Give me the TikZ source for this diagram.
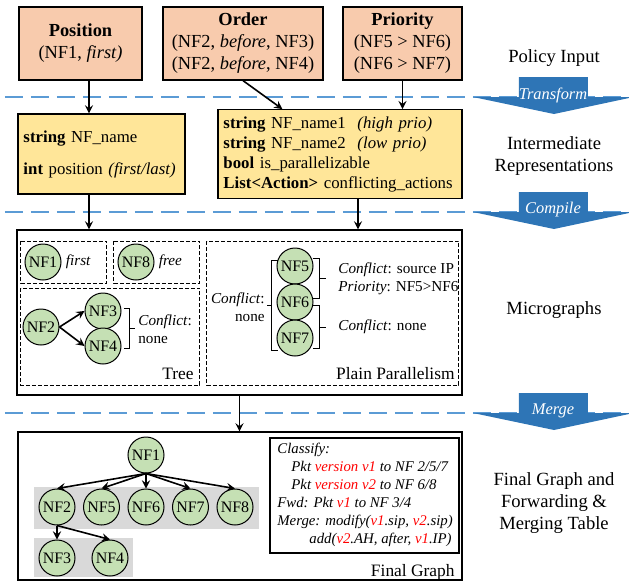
\documentclass[tikz,border=0pt]{standalone}
\usepackage{fontspec}
\setmainfont{Liberation Serif}
\usepackage{tikz}
\usetikzlibrary{arrows,positioning,calc}

\definecolor{peach}{HTML}{F8CBAD}
\definecolor{irgold}{HTML}{FFE699}
\definecolor{nfgreen}{HTML}{C5E0B4}
\definecolor{stageblue}{HTML}{2E75B6}
\definecolor{lineblue}{HTML}{5B9BD5}
\definecolor{bandgray}{HTML}{D9D9D9}

\tikzset{
  policy/.style={draw=black, fill=peach, line width=0.6pt, minimum height=36.5pt, align=center, inner sep=0pt, font=\fontsize{9.2}{11}\selectfont},
  irbox/.style={draw=black, fill=irgold, line width=0.6pt, minimum height=40pt, align=left, inner xsep=2.75pt, font=\fontsize{8.4}{10}\selectfont},
  nf/.style={circle, draw=black, fill=nfgreen, line width=0.5pt, minimum size=18pt, inner sep=0pt, font=\fontsize{8}{9}\selectfont},
  sub/.style={draw=black, line width=0.5pt, dash pattern=on 2pt off 1pt},
  note/.style={font=\fontsize{7.6}{9}\selectfont, inner sep=0pt},
  lbl/.style={font=\fontsize{8.7}{10}\selectfont, inner sep=0pt},
  stagelabel/.style={align=center, font=\fontsize{9.3}{11}\selectfont},
  sep/.style={lineblue, line width=1pt, dash pattern=on 9pt off 4pt},
  stagetext/.style={text=white, font=\fontsize{8.2}{9}\selectfont\itshape},
  tabletext/.style={align=left, inner sep=0pt, font=\fontsize{7.4}{9}\selectfont\itshape},
  flow/.style={-stealth, line width=0.8pt},
  brace/.style={line width=0.5pt}
}

\begin{document}
\begin{tikzpicture}[x=0.5pt,y=-0.5pt]
\useasboundingbox (0,0) rectangle (629,586);

% stage separators
\foreach \y/\t in {97/Transform,212/Compile,413/Merge}
         {
           \draw[sep] (5,\y) -- (629,\y);
           \fill[stageblue] (519,\y-20) -- (588,\y-20) -- (588,\y) -- (629,\y) -- (629,\y+1) -- (554,\y+17) -- (473,\y) -- (519,\y) -- cycle;
           \node[stagetext] at (553,\y-2) {\t};
         }

\node[stagelabel] (lpol) at (554,58) {Policy Input};
\node[stagelabel] (lir) at (554,156) {Intermediate\\Representations};
\node[stagelabel] (lmic) at (554,310) {Micrographs};
\node[stagelabel] (lfin) at (554,503) {Final Graph and\\Forwarding \&\\Merging Table};

% policy input
\node[policy, minimum width=61.5pt] (pos) at (80.5,43.5) {\textbf{Position}\\(NF1, \textit{first)}};
\node[policy, minimum width=80pt] (ord) at (243,43.5) {\textbf{Order}\\(NF2, \textit{before}, NF3)\\(NF2, \textit{before}, NF4)};
\node[policy, minimum width=59.5pt] (prio) at (402.5,43.5) {\textbf{Priority}\\(NF5 > NF6)\\(NF6 > NF7)};

% intermediate representations
\node[irbox, text width=78pt] (ir1) at (101.5,154) {\textbf{string} NF\_name\\[6pt]\textbf{int} position \textit{(first/last)}};
\node[irbox, text width=116.5pt] (ir2) at (340,154) {\makebox[67pt][l]{\textbf{string} NF\_name1}\textit{(high prio)}\\
  \makebox[67pt][l]{\textbf{string} NF\_name2}\textit{(low prio)}\\
  \textbf{bool} is\_parallelizable\\
  \textbf{List<Action>} conflicting\_actions};

\coordinate (p1) at ([xshift=4.25pt]pos.south);
\coordinate (p2) at ([xshift=9pt]ir2.south);
\draw[flow] (p1) -- (p1 |- ir1.north);
\draw[flow] (ord.south) -- ([xshift=32.5pt]ir2.north west);
\draw[flow] (prio.south) -- (prio.south |- ir2.north);

% micrographs
\node[draw, line width=0.6pt, minimum width=222.5pt, minimum height=82.5pt, inner sep=0pt] (micro) at (239.5,312.5) {};
\draw[flow] (p1 |- ir1.south) -- (p1 |- micro.north);
\draw[flow] (p2) -- (p2 |- micro.north);

\draw[sub] (21,241) rectangle (107,283);
\draw[sub] (114,241) rectangle (200,283);
\draw[sub] (21,288) rectangle (200,385);
\draw[sub] (207,241) rectangle (459,385);

\node[nf] (a1) at (43,262) {NF1};
\node[note, right=2pt of a1] (a1t) {\textit{first}};
\node[nf] (a8) at (136,262) {NF8};
\node[note, right=2pt of a8] (a8t) {\textit{free}};

\node[nf] (a2) at (41,327) {NF2};
\node[nf] (a3) at (103,311) {NF3};
\node[nf] (a4) at (103,346) {NF4};
\draw[flow] (a2.east) -- (a3.west);
\draw[flow] (a2.east) -- (a4.west);
\draw[brace] (124,308) -- (130,308) -- (130,348) -- (124,348);
\draw[brace] (130,328) -- (135,328);
\node[note, anchor=west, align=left] (treec) at (138,329) {\textit{Conflict}:\\none};
\node[lbl, anchor=base east] (treel) at (194,379) {Tree};

\node[nf] (a5) at (295,266) {NF5};
\node[nf] (a6) at (295,302) {NF6};
\node[nf] (a7) at (295,338) {NF7};
\draw[brace] (278,260) -- (272,260) -- (272,350) -- (278,350);
\draw[brace] (272,305) -- (267,305);
\node[note, anchor=east, align=right] (parc) at (265,307) {\textit{Conflict}:\\none};
\draw[brace] (313,258) -- (320,258) -- (320,298) -- (313,298);
\draw[brace] (320,278) -- (326,278);
\draw[brace] (313,305) -- (320,305) -- (320,348) -- (313,348);
\draw[brace] (320,327) -- (326,327);
\node[note, anchor=west, align=left] (c56) at (338,279) {\textit{Conflict}: source IP\\\textit{Priority}: NF5>NF6};
\node[note, anchor=west] (c67) at (338,327) {\textit{Conflict}: none};
\node[lbl, anchor=base east] (parl) at (455,379) {Plain Parallelism};

% final graph
\node[draw, line width=0.6pt, minimum width=222pt, minimum height=74pt, inner sep=0pt] (final) at (240,506) {};
\draw[flow] (micro.south) -- (micro.south |- final.north);

\fill[bandgray] (34,487) rectangle (259,529);
\fill[bandgray] (34,538) rectangle (133,577);

\node[nf] (f1) at (146,455) {NF1};
\foreach \n/\x in {2/57,5/101.5,6/146,7/190.5,8/235}
  \node[nf] (f\n) at (\x,507) {NF\n};
\node[nf] (f3) at (57,558) {NF3};
\node[nf] (f4) at (110,558) {NF4};
\foreach \n in {2,5,6,7,8}
  \draw[flow] (f1.south) -- (f\n.north);
\draw[flow] (f2.south) -- (f3.north);
\draw[flow] (f2.south) -- (f4.north);

\node[draw, line width=0.6pt, minimum width=94.5pt, minimum height=57.5pt, inner sep=0pt] (tbl) at (364.5,495.5) {};
\node[tabletext, anchor=west] (tbltext) at (277,495) {Classify:\\
  \hspace*{7pt}Pkt \textcolor{red}{version v1} to NF 2/5/7\\
  \hspace*{7pt}Pkt \textcolor{red}{version v2} to NF 6/8\\
  Fwd: Pkt \textcolor{red}{v1} to NF 3/4\\
  Merge: modify(\textcolor{red}{v1}.sip, \textcolor{red}{v2}.sip)\\
  \hspace*{16pt}add(\textcolor{red}{v2}.AH, after, \textcolor{red}{v1}.IP)};
\node[lbl, anchor=base east] (finl) at (455,576) {Final Graph};

\end{tikzpicture}
\end{document}
